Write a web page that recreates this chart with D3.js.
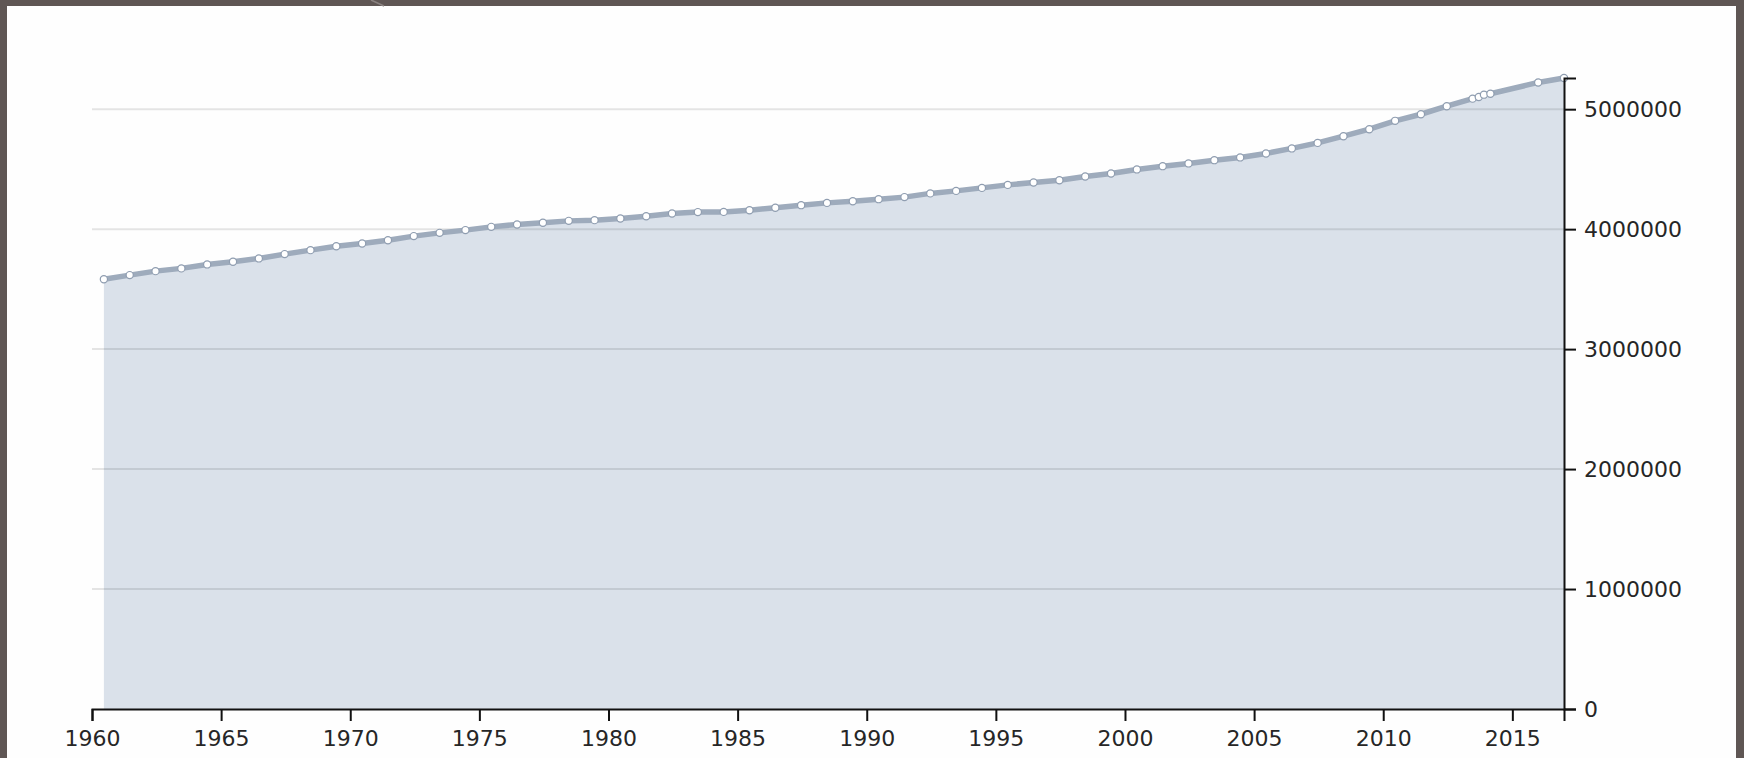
<!DOCTYPE html>
<html lang="en">
<head>
    <meta charset="UTF-8">
    <title>Population 1960-2017</title>
    <script src="https://d3js.org/d3.v7.min.js"></script>
    <style>
        html, body {
            margin: 0;
            padding: 0;
            background: #5f5654;
            overflow: hidden;
        }
        svg {
            display: block;
        }
        .axis text {
            font-family: "DejaVu Sans", Verdana, sans-serif;
            font-size: 22px;
            fill: #262626;
        }
        .axis path, .axis line {
            stroke: #111;
            stroke-width: 2px;
        }
        .grid line {
            stroke: rgba(0, 0, 0, 0.1);
            stroke-width: 2px;
        }
    </style>
</head>
<body>
    <div id="chart"></div>
    <script>
        // decimal years of each sample
        const years = [
            1960.46, 1961.46, 1962.46, 1963.46, 1964.46, 1965.46, 1966.46, 1967.46, 1968.46, 1969.46,
            1970.46, 1971.46, 1972.46, 1973.46, 1974.46, 1975.46, 1976.46, 1977.46, 1978.46, 1979.46,
            1980.46, 1981.46, 1982.46, 1983.46, 1984.46, 1985.46, 1986.46, 1987.46, 1988.46, 1989.46,
            1990.46, 1991.46, 1992.46, 1993.46, 1994.46, 1995.46, 1996.46, 1997.46, 1998.46, 1999.46,
            2000.46, 2001.46, 2002.46, 2003.46, 2004.46, 2005.46, 2006.46, 2007.46, 2008.46, 2009.46,
            2010.46, 2011.46, 2012.46, 2013.46, 2013.70, 2013.90, 2014.15, 2016.0, 2017.0
        ];
        const population = [
            3583000, 3617000, 3650000, 3673000, 3706000, 3728000, 3756000, 3792000, 3825000, 3858000,
            3881000, 3908000, 3942000, 3969000, 3992000, 4019000, 4039000, 4053000, 4069000, 4075000,
            4089000, 4108000, 4131000, 4142000, 4144000, 4158000, 4178000, 4200000, 4219000, 4233000,
            4250000, 4267000, 4298000, 4319000, 4344000, 4369000, 4389000, 4408000, 4439000, 4464000,
            4498000, 4525000, 4548000, 4575000, 4598000, 4631000, 4673000, 4719000, 4775000, 4833000,
            4903000, 4958000, 5025000, 5088000, 5101000, 5121000, 5129000, 5223000, 5260000
        ];
        const xTicks = [1960, 1965, 1970, 1975, 1980, 1985, 1990, 1995, 2000, 2005, 2010, 2015];
        const yTicks = [0, 1000000, 2000000, 3000000, 4000000, 5000000];

        const W = 1744, H = 758;
        const margin = { top: 78, right: 180, bottom: 49, left: 92 };
        const width = W - margin.left - margin.right;
        const height = H - margin.top - margin.bottom;

        const data = years.map((t, i) => ({ t: t, v: population[i] }));

        const root = d3.select('#chart')
            .append('svg')
            .attr('width', W)
            .attr('height', H);

        // white card inside the dark frame
        root.append('rect')
            .attr('x', 7).attr('y', 6)
            .attr('width', 1729).attr('height', H - 6)
            .attr('fill', '#fefefe');
        root.append('line')
            .attr('x1', 371).attr('y1', 0).attr('x2', 384).attr('y2', 6)
            .attr('stroke', '#8a8280').attr('stroke-width', 1.5);

        const svg = root.append('g')
            .attr('transform', `translate(${margin.left},${margin.top})`);

        const x = d3.scaleLinear().domain([1960, d3.max(years)]).range([0, width]);
        const y = d3.scaleLinear().domain([0, d3.max(population)]).range([height, 0]);

        const area = d3.area()
            .x(d => x(d.t))
            .y0(height)
            .y1(d => y(d.v));

        const line = d3.line()
            .x(d => x(d.t))
            .y(d => y(d.v));

        svg.append('path')
            .datum(data)
            .attr('fill', '#dae1ea')
            .attr('d', area);

        // horizontal grid
        svg.append('g')
            .attr('class', 'grid')
            .selectAll('line')
            .data(yTicks.filter(d => d > 0))
            .enter().append('line')
            .attr('x1', 0).attr('x2', width)
            .attr('y1', d => y(d)).attr('y2', d => y(d));

        svg.append('path')
            .datum(data)
            .attr('fill', 'none')
            .attr('stroke', '#9eabbc')
            .attr('stroke-width', 5.5)
            .attr('d', line);

        svg.selectAll('.dot')
            .data(data)
            .enter().append('circle')
            .attr('class', 'dot')
            .attr('cx', d => x(d.t))
            .attr('cy', d => y(d.v))
            .attr('r', 3.6)
            .attr('fill', '#fff')
            .attr('stroke', '#8f9db0')
            .attr('stroke-width', 1.2);

        const xAxis = d3.axisBottom(x)
            .tickValues(xTicks)
            .tickFormat(d3.format('d'))
            .tickSize(12)
            .tickPadding(9);

        const yAxis = d3.axisRight(y)
            .tickValues(yTicks)
            .tickFormat(d3.format('d'))
            .tickSize(12)
            .tickPadding(8);

        svg.append('g')
            .attr('class', 'axis')
            .attr('transform', `translate(0,${height})`)
            .call(xAxis);

        svg.append('g')
            .attr('class', 'axis')
            .attr('transform', `translate(${width},0)`)
            .call(yAxis);
    </script>
</body>
</html>
